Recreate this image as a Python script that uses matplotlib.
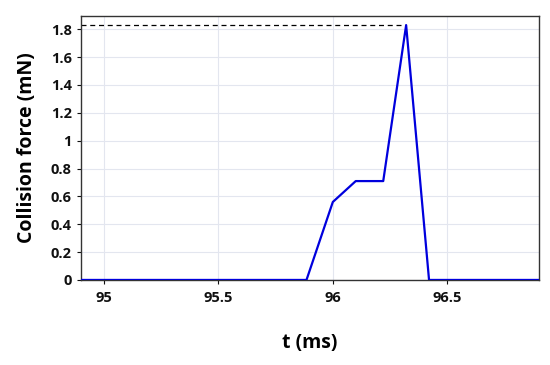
import matplotlib
matplotlib.use("Agg")
import matplotlib.pyplot as plt

t = [94.9, 95.885, 96.0, 96.1, 96.22, 96.32, 96.42, 96.9]
force = [0.0, 0.0, 0.56, 0.71, 0.71, 1.83, 0.0, 0.0]
xticks = [95, 95.5, 96, 96.5]
yticks = [0, 0.2, 0.4, 0.6, 0.8, 1, 1.2, 1.4, 1.6, 1.8]
peak_t = 96.32
peak_f = 1.83

plt.rcParams['font.family'] = ['Open Sans', 'DejaVu Sans']
fig = plt.figure(figsize=(5.5, 3.65), dpi=100)
ax = fig.add_axes([0.147, 0.233, 0.833, 0.723])
ax.plot(t, force, color='#0000dd', lw=1.6, zorder=3)
ax.plot([94.9, peak_t], [peak_f, peak_f], color='black', lw=0.9, ls=(0, (4, 3)), zorder=2)
ax.set_xlim(94.9, 96.9)
ax.set_ylim(0, 1.895)
ax.set_xticks(xticks)
ax.set_xticklabels(['95', '95.5', '96', '96.5'])
ax.set_yticks(yticks)
ax.set_yticklabels(['0', '0.2', '0.4', '0.6', '0.8', '1', '1.2', '1.4', '1.6', '1.8'])
ax.grid(True, color='#e3e6ef', lw=0.8)
ax.set_axisbelow(True)
for s in ax.spines.values():
    s.set_color('#333333')
    s.set_linewidth(1.0)
ax.tick_params(axis='both', labelsize=10.5, width=0.8, length=3, colors='#111111')
ax.tick_params(axis='x', pad=5)
for lab in ax.get_xticklabels() + ax.get_yticklabels():
    lab.set_fontweight('bold')
ax.set_xlabel('t (ms)', fontsize=14, fontweight='bold', labelpad=20)
ax.set_ylabel('Collision force (mN)', fontsize=14, fontweight='bold', labelpad=10)
fig.savefig('out.png', dpi=100)
